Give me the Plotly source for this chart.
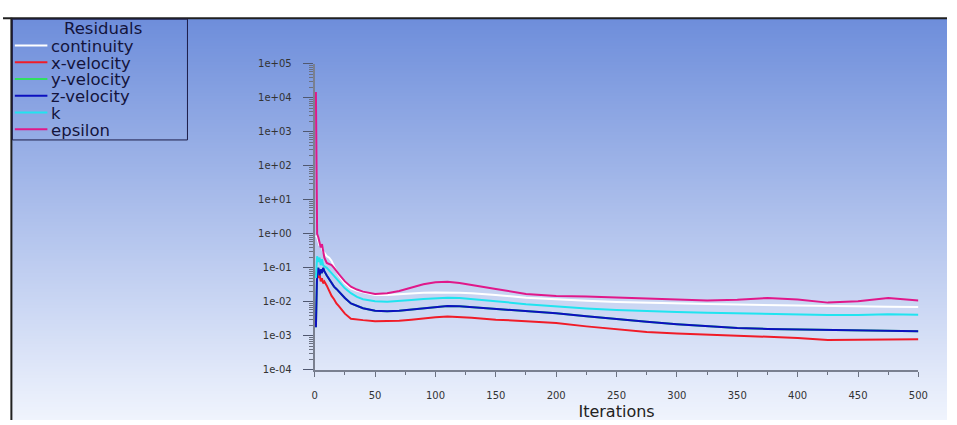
import base64, struct, zlib
import plotly.graph_objects as go

# ---------------- data ----------------
iterations = [1, 2, 3, 4, 5, 6, 7, 8, 10, 12, 14, 16, 18, 20, 25, 30, 35, 40,
              50, 60, 70, 80, 90, 100, 110, 120, 130, 140, 150,
              175, 200, 225, 250, 275, 300, 325, 350, 375, 400, 425, 450, 475, 500]

continuity = [0.9, 0.8, 0.6, 0.45, 0.5, 0.35, 0.3, 0.28, 0.22, 0.2, 0.16, 0.11, 0.08, 0.06,
              0.035, 0.025, 0.021, 0.019,
              0.016, 0.016, 0.017, 0.018, 0.0185, 0.019, 0.019, 0.0185, 0.018, 0.017, 0.016,
              0.0132, 0.0117, 0.0107, 0.0099, 0.0093, 0.0089, 0.0086, 0.0083, 0.008, 0.0078,
              0.0076, 0.0074, 0.0072, 0.0071]

x_velocity = [0.06, 0.1, 0.05, 0.07, 0.04, 0.05, 0.035, 0.04, 0.03, 0.02, 0.015, 0.012, 0.009, 0.0075,
              0.0045, 0.0032, 0.003, 0.0029,
              0.0027, 0.0027, 0.0028, 0.003, 0.0033, 0.0035, 0.0037, 0.0036, 0.0034, 0.0032, 0.003,
              0.0027, 0.0024, 0.0019, 0.0016, 0.0013, 0.00118, 0.00108, 0.001, 0.00094, 0.00087,
              0.00075, 0.00076, 0.0008, 0.0008]

y_velocity = [0.0018, 0.08, 0.1, 0.06, 0.09, 0.07, 0.1, 0.08, 0.06, 0.045, 0.035, 0.028, 0.024, 0.02,
              0.013, 0.009, 0.0075, 0.0065,
              0.0055, 0.0053, 0.0055, 0.006, 0.0067, 0.0073, 0.0076, 0.0074, 0.007, 0.0066, 0.0062,
              0.0053, 0.0046, 0.0038, 0.0031, 0.0026, 0.0022, 0.0019, 0.0017, 0.0016, 0.00155,
              0.0015, 0.00145, 0.0014, 0.00137]

z_velocity = [0.0018, 0.08, 0.1, 0.06, 0.09, 0.07, 0.1, 0.08, 0.06, 0.045, 0.035, 0.028, 0.024, 0.02,
              0.013, 0.009, 0.0075, 0.0065,
              0.0055, 0.0053, 0.0055, 0.006, 0.0067, 0.0073, 0.0076, 0.0074, 0.007, 0.0066, 0.0062,
              0.0053, 0.0046, 0.0038, 0.0031, 0.0026, 0.0022, 0.0019, 0.0017, 0.0016, 0.00155,
              0.0015, 0.00145, 0.0014, 0.00137]

k_values = [0.05, 0.22, 0.15, 0.2, 0.12, 0.18, 0.12, 0.11, 0.1, 0.085, 0.07, 0.058, 0.048, 0.04,
            0.025, 0.018, 0.014, 0.012,
            0.0105, 0.01, 0.0105, 0.0113, 0.0122, 0.013, 0.0132, 0.013, 0.0122, 0.0115, 0.0105,
            0.0085, 0.0072, 0.0064, 0.0058, 0.0053, 0.005, 0.0048, 0.0046, 0.0045, 0.0044,
            0.0041, 0.0041, 0.0043, 0.0042]

epsilon = [15000, 1.0, 0.8, 0.6, 0.4, 0.5, 0.3, 0.2, 0.14, 0.13, 0.12, 0.1, 0.08, 0.065,
           0.04, 0.028, 0.023, 0.02,
           0.017, 0.018, 0.021, 0.026, 0.033, 0.038, 0.039, 0.036, 0.031, 0.027, 0.024,
           0.017, 0.015, 0.0143, 0.0135, 0.0128, 0.012, 0.011, 0.0115, 0.013, 0.0118,
           0.0095, 0.0105, 0.013, 0.011]

series_names = ["continuity", "x-velocity", "y-velocity", "z-velocity", "k", "epsilon"]
series_values = [continuity, x_velocity, y_velocity, z_velocity, k_values, epsilon]
series_colors = ["#ffffff", "#f01c28", "#30e060", "#0c10c0", "#20e4f0", "#e0188a"]

y_tick_vals = [1e-4, 1e-3, 1e-2, 1e-1, 1e0, 1e1, 1e2, 1e3, 1e4, 1e5]
y_tick_text = ["1e-04", "1e-03", "1e-02", "1e-01", "1e+00", "1e+01", "1e+02", "1e+03", "1e+04", "1e+05"]
x_tick_vals = [0, 50, 100, 150, 200, 250, 300, 350, 400, 450, 500]

# ---------------- gradient background image (PNG built in memory) ----------------
def gradient_png(top, bottom, h=256):
    raw = b""
    for r in range(h):
        t = r / (h - 1)
        c = bytes(int(round(top[i] + (bottom[i] - top[i]) * t)) for i in range(3))
        raw += b"\x00" + c * 2
    def chunk(tag, data):
        return struct.pack(">I", len(data)) + tag + data + struct.pack(">I", zlib.crc32(tag + data) & 0xffffffff)
    png = b"\x89PNG\r\n\x1a\n"
    png += chunk(b"IHDR", struct.pack(">IIBBBBB", 2, h, 8, 2, 0, 0, 0))
    png += chunk(b"IDAT", zlib.compress(raw))
    png += chunk(b"IEND", b"")
    return "data:image/png;base64," + base64.b64encode(png).decode()

W, H = 957, 425
bg_src = gradient_png((110, 142, 219), (240, 244, 253))

FONT = "DejaVu Sans, Liberation Sans, Arial, sans-serif"

fig = go.Figure()
for name, vals, col in zip(series_names, series_values, series_colors):
    fig.add_trace(go.Scatter(x=iterations, y=vals, mode="lines", name=name,
                             line=dict(color=col, width=2), showlegend=False))

# plot area in pixels
px_left, px_right = 316, 928
px_top, px_bottom = 59.5, 373.5

fig.update_layout(
    width=W, height=H,
    margin=dict(l=0, r=0, t=0, b=0),
    paper_bgcolor="white",
    plot_bgcolor="rgba(0,0,0,0)",
    font=dict(family=FONT, color="#222222"),
    images=[dict(source=bg_src, xref="paper", yref="paper",
                 x=9 / W, y=1 - 13 / H, sizex=1 - 9 / W, sizey=1 - 13 / H,
                 xanchor="left", yanchor="top", sizing="stretch", layer="below")],
    xaxis=dict(domain=[px_left / W, px_right / W], range=[0, 500],
               tickvals=x_tick_vals, ticks="outside", ticklen=5, tickcolor="#6a7080",
               ticklabelstandoff=10,
               showline=True, linecolor="#7a8090", linewidth=2,
               showgrid=False, zeroline=False,
               tickfont=dict(size=10, color="#333333"),
               minor=dict(ticks="outside", ticklen=3, dtick=25, tickcolor="#6a7080", showgrid=False),
               title=dict(text="Iterations", font=dict(size=16, color="#222222"), standoff=6)),
    yaxis=dict(domain=[1 - px_bottom / H, 1 - px_top / H], type="log", range=[-4, 5],
               tickvals=y_tick_vals, ticktext=y_tick_text,
               ticks="outside", ticklen=10, tickcolor="#505870",
               ticklabelstandoff=9,
               showline=True, linecolor="#7a8090", linewidth=2,
               showgrid=False, zeroline=False,
               tickfont=dict(size=10, color="#333333"),
               minor=dict(ticks="outside", ticklen=4, dtick="D1", tickcolor="#6a7080", showgrid=False)),
)

# outer frame lines (top and left)
fig.add_shape(type="line", xref="paper", yref="paper", x0=0, x1=1, y0=1 - 12.5 / H, y1=1 - 12.5 / H,
              line=dict(color="#202020", width=2))
fig.add_shape(type="line", xref="paper", yref="paper", x0=8.5 / W, x1=8.5 / W, y0=0, y1=1 - 12 / H,
              line=dict(color="#202020", width=2))

# custom legend box
lg_x0, lg_x1, lg_y0, lg_y1 = 9.5, 187, 13.5, 137.5
fig.add_shape(type="rect", xref="paper", yref="paper",
              x0=lg_x0 / W, x1=lg_x1 / W, y0=1 - lg_y1 / H, y1=1 - lg_y0 / H,
              line=dict(color="#1c1c48", width=1), fillcolor="rgba(0,0,0,0)")
fig.add_annotation(xref="paper", yref="paper", x=101 / W, y=1 - 23 / H, text="Residuals",
                   showarrow=False, xanchor="center", yanchor="middle", borderpad=0,
                   font=dict(family=FONT, size=16.5, color="#14143c"))
for i, (name, col) in enumerate(zip(series_names, series_colors)):
    yy = 40.5 + i * 17.2
    fig.add_shape(type="line", xref="paper", yref="paper", x0=12 / W, x1=45 / W,
                  y0=1 - yy / H, y1=1 - yy / H, line=dict(color=col, width=2))
    fig.add_annotation(xref="paper", yref="paper", x=48 / W, y=1 - (yy + 1) / H, text=name,
                       showarrow=False, xanchor="left", yanchor="middle", borderpad=0,
                       font=dict(family=FONT, size=16.5, color="#14143c"))

post = ("document.documentElement.style.margin='0';document.body.style.margin='0';"
        "document.body.style.padding='0';document.documentElement.style.overflow='hidden';"
        "document.body.style.overflow='hidden';"
        "var d=document.getElementById('{plot_id}');"
        "d.style.position='fixed';d.style.left='0px';d.style.top='0px';"
        "var vw=document.documentElement.clientWidth||window.innerWidth;"
        "var vh=document.documentElement.clientHeight||window.innerHeight;"
        "d.style.width=vw+'px';d.style.height=vh+'px';"
        "Plotly.relayout(d,{width:vw,height:vh});")

fig.write_html("out.html", config={"displayModeBar": False, "responsive": False},
               post_script=post)
